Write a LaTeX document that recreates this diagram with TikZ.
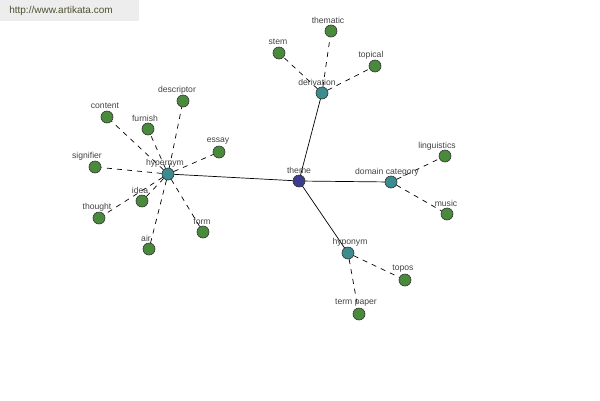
\documentclass[tikz,border=0pt]{standalone}
\usepackage{fontspec}
\setmainfont{Liberation Sans}
\begin{document}
\begin{tikzpicture}[x=1pt,y=-1pt,
  dot/.style={circle,draw=black!80,line width=0.6pt,minimum size=12pt,inner sep=0pt},
  root/.style={dot,fill=rootc},
  mid/.style={dot,fill=midc},
  leaf/.style={dot,fill=leafc},
  lbl/.style={inner sep=0pt,text=textc,font=\fontsize{8.6}{10}\selectfont},
  solidedge/.style={line width=0.7pt,black},
  dashedge/.style={line width=0.7pt,black,dash pattern=on 5pt off 5pt}]
\definecolor{rootc}{HTML}{3C3C8E}
\definecolor{midc}{HTML}{3A8C8E}
\definecolor{leafc}{HTML}{4A8A3C}
\definecolor{textc}{HTML}{444444}
\definecolor{hdrc}{HTML}{EDEDED}
\definecolor{hdrtext}{HTML}{4F5030}
\useasboundingbox (0,0) rectangle (600,400);
\fill[white] (0,0) rectangle (600,400);
% header
\node[draw=none,fill=hdrc,minimum width=139pt,minimum height=21pt,inner sep=0pt,anchor=north west] (hdr) at (0,0) {};
\node[text=hdrtext,inner sep=0pt,font=\fontsize{10}{12}\selectfont] (url) at (61,11) {http://www.artikata.com};
% coordinates of nodes
\coordinate (pTheme) at (299,181);
\coordinate (pHyper) at (168,174);
\coordinate (pDeriv) at (322,93);
\coordinate (pDom) at (391,182);
\coordinate (pHypo) at (348,253);
% edges first (drawn under circles via named coordinates)
\draw[solidedge] (pTheme) -- (pHyper);
\draw[solidedge] (pTheme) -- (pDeriv);
\draw[solidedge] (pTheme) -- (pDom);
\draw[solidedge] (pTheme) -- (pHypo);
% leaves
\node[leaf] (thematic) at (331,31) {};
\node[leaf] (stem) at (279,53) {};
\node[leaf] (topical) at (375,66) {};
\node[leaf] (linguistics) at (445,156) {};
\node[leaf] (music) at (447,214) {};
\node[leaf] (topos) at (405,280) {};
\node[leaf] (termpaper) at (359,314) {};
\node[leaf] (descriptor) at (183,101) {};
\node[leaf] (content) at (107,117) {};
\node[leaf] (furnish) at (148,129) {};
\node[leaf] (essay) at (219,152) {};
\node[leaf] (signifier) at (95,167) {};
\node[leaf] (idea) at (142,201) {};
\node[leaf] (thought) at (99,218) {};
\node[leaf] (air) at (149,249) {};
\node[leaf] (form) at (203,232) {};
% mids
\node[mid] (hypernym) at (pHyper) {};
\node[mid] (derivation) at (pDeriv) {};
\node[mid] (domain) at (pDom) {};
\node[mid] (hyponym) at (pHypo) {};
\node[root] (theme) at (pTheme) {};
% dashed edges
\foreach \a/\b in {derivation/thematic,derivation/stem,derivation/topical,
  domain/linguistics,domain/music,hyponym/topos,hyponym/termpaper,
  hypernym/descriptor,hypernym/content,hypernym/furnish,hypernym/essay,
  hypernym/signifier,hypernym/idea,hypernym/thought,hypernym/air,hypernym/form}
  \draw[dashedge] (\a) -- (\b);
% labels
\node[lbl] (lTheme) at (299,170) {theme};
\node[lbl] (lHyper) at (165,163) {hypernym};
\node[lbl] (lDeriv) at (317,82) {derivation};
\node[lbl] (lDom) at (387,172) {domain category};
\node[lbl] (lHypo) at (350,242) {hyponym};
\node[lbl] (lThematic) at (328,20) {thematic};
\node[lbl] (lStem) at (278,42) {stem};
\node[lbl] (lTopical) at (371,55) {topical};
\node[lbl] (lLing) at (437,146) {linguistics};
\node[lbl] (lMusic) at (446,203) {music};
\node[lbl] (lTopos) at (403,269) {topos};
\node[lbl] (lTerm) at (356,303) {term paper};
\node[lbl] (lDesc) at (177,90) {descriptor};
\node[lbl] (lContent) at (105,106) {content};
\node[lbl] (lFurnish) at (145,118) {furnish};
\node[lbl] (lEssay) at (218,141) {essay};
\node[lbl] (lSign) at (87,156) {signifier};
\node[lbl] (lIdea) at (140,190) {idea};
\node[lbl] (lThought) at (97,207) {thought};
\node[lbl] (lAir) at (146,238) {air};
\node[lbl] (lForm) at (202,221) {form};
\end{tikzpicture}
\end{document}
